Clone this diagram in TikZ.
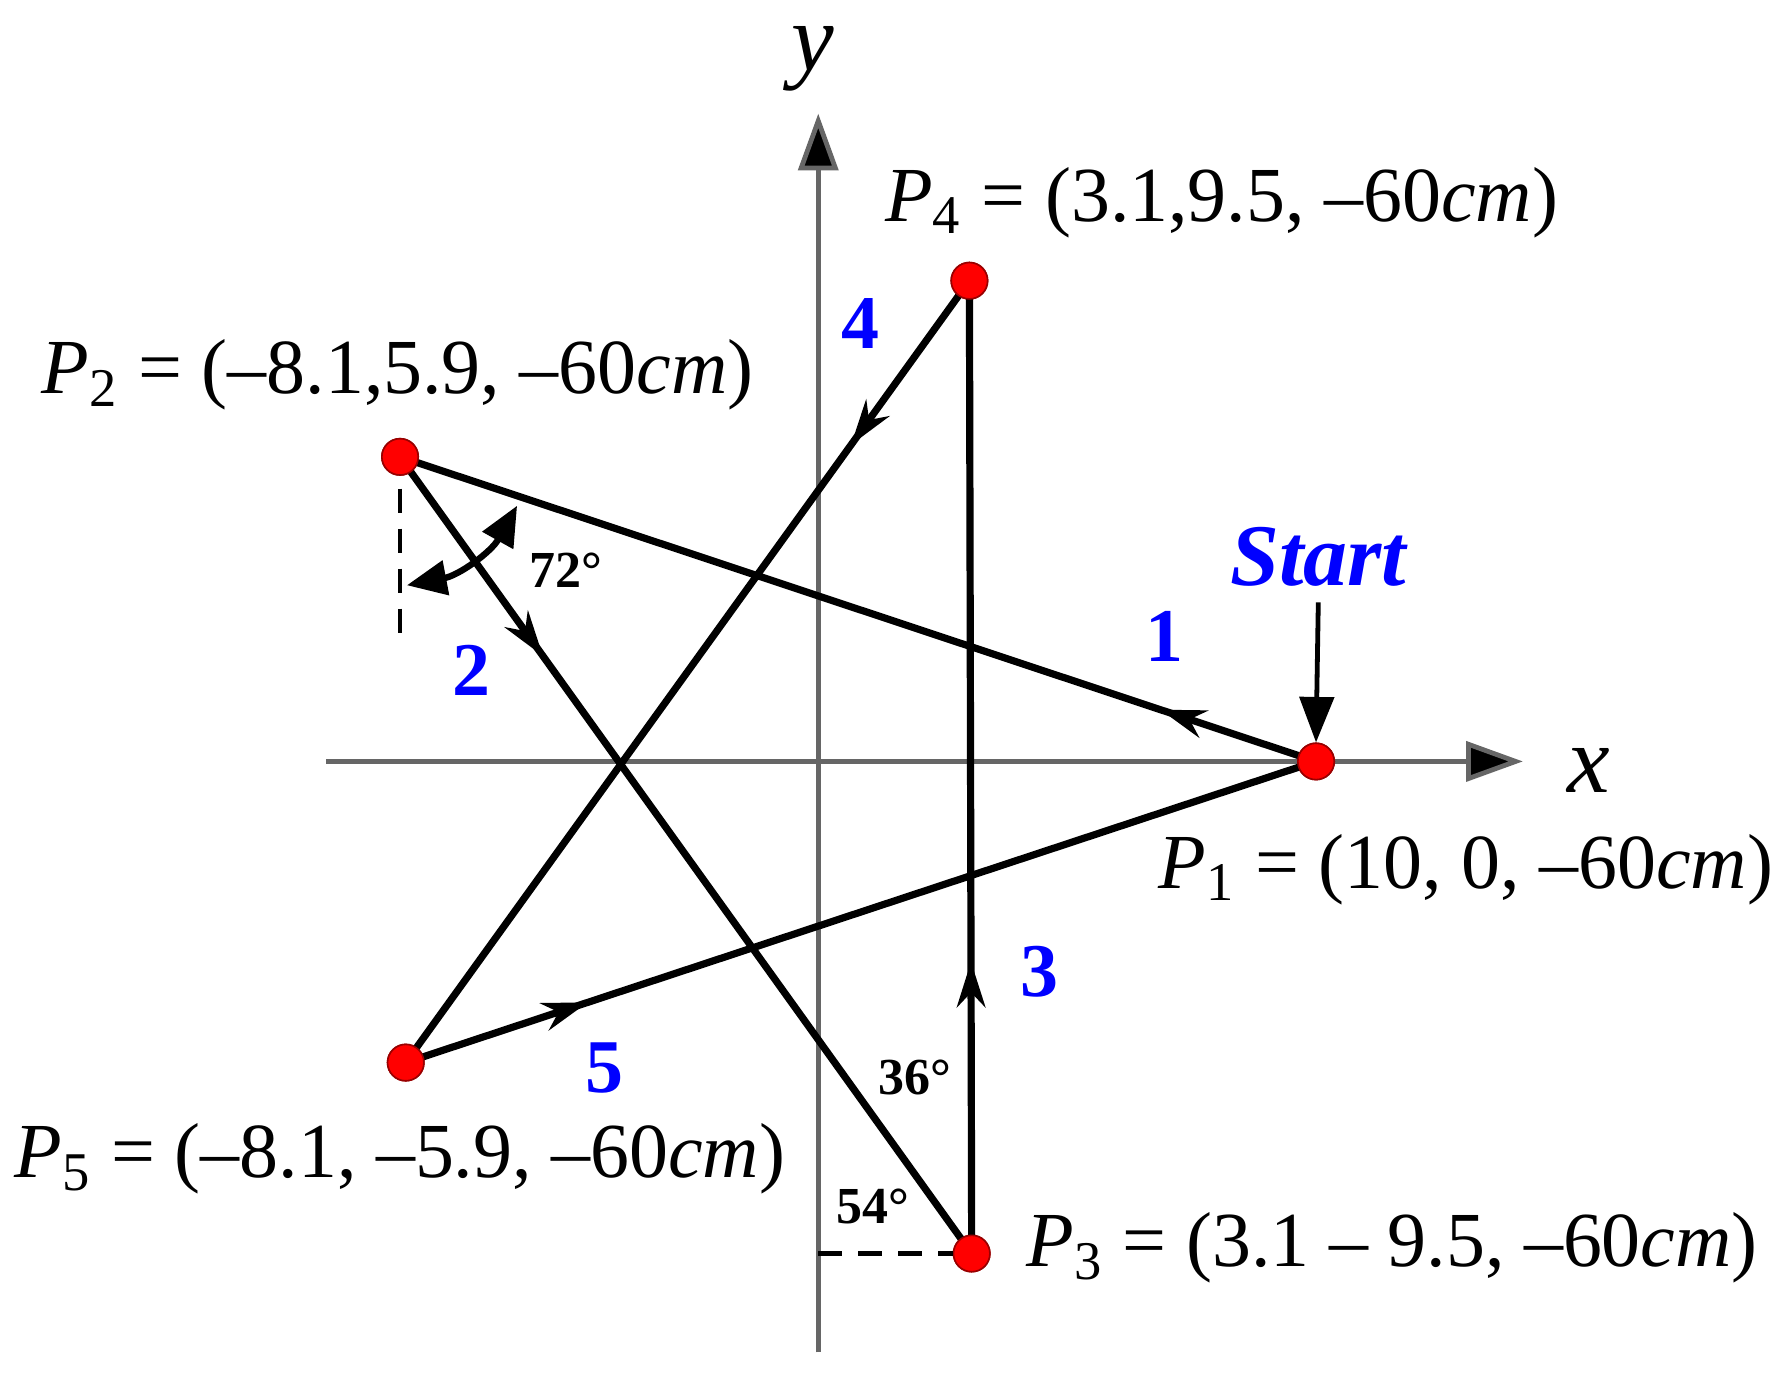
\documentclass[tikz,border=0pt]{standalone}
\usepackage{fontspec}
\setmainfont{Liberation Serif}
\usetikzlibrary{arrows.meta,decorations.markings}
\begin{document}
\begin{tikzpicture}[x=0.01cm,y=-0.01cm,
  pt/.style={circle,fill=red,draw=red!60!black,inner sep=0pt,minimum size=0.32cm},
  lab/.style={font=\fontsize{19.5}{21}\selectfont},
  num/.style={font=\fontsize{19}{21}\selectfont\bfseries,text=blue},
  deg/.style={font=\fontsize{13}{15}\selectfont\bfseries},
  edge/.style={line width=1.8pt,postaction={decorate},decoration={markings,mark=at position #1 with {\arrow{Stealth[length=0.4cm,width=0.25cm]}}}},
  axis/.style={line width=1.2pt},
  dsh/.style={line width=1.2pt,dash pattern=on 6pt off 4pt}]
\useasboundingbox (0,0) rectangle (1568,1228);
\coordinate (xs) at (287,670);
\coordinate (xe) at (1340,670);
\coordinate (ys) at (720,1190);
\coordinate (ye) at (720,100);
\draw[axis,draw=gray!80!black,-{Triangle[length=0.5cm,width=0.35cm,fill=black]}] (xs)--(xe);
\draw[axis,draw=gray!80!black,-{Triangle[length=0.5cm,width=0.35cm,fill=black]}] (ys)--(ye);
\node[font=\fontsize{24}{26}\selectfont\itshape] (xl) at (1398,678) {x};
\node[font=\fontsize{24}{26}\selectfont\itshape] (yl) at (715,52) {y};
\node[pt] (P1) at (1158,670) {};
\node[pt] (P2) at (352,402) {};
\node[pt] (P3) at (855,1103) {};
\node[pt] (P4) at (853,247) {};
\node[pt] (P5) at (357,935) {};
\draw[edge=0.17] (P1.center)--(P2.center);
\draw[edge=0.25] (P2.center)--(P3.center);
\draw[edge=0.3] (P3.center)--(P4.center);
\draw[edge=0.21] (P4.center)--(P5.center);
\draw[edge=0.2] (P5.center)--(P1.center);
\foreach \p in {P1,P2,P3,P4,P5} \node[pt] at (\p) {};
\node[num] (n1) at (1025,560) {1};
\node[num] (n2) at (415,590) {2};
\node[num] (n3) at (915,855) {3};
\node[num] (n4) at (757,285) {4};
\node[num] (n5) at (532,940) {5};
\node[font=\fontsize{22}{24}\selectfont\bfseries\itshape,text=blue] (st) at (1160,490) {Start};
\coordinate (sa) at (1160,530);
\draw[line width=1.2pt,-{Triangle[length=0.4cm,width=0.3cm]}] (sa)--(P1.north);
\coordinate (d1) at (352,430); \coordinate (d2) at (352,570);
\draw[dsh] (d1)--(d2);
\coordinate (a1) at (455,445); \coordinate (a2) at (358,515);
\draw[line width=1.6pt,{Triangle[length=0.35cm,width=0.3cm]}-{Triangle[length=0.35cm,width=0.3cm]}] (a1) to[bend left=25] (a2);
\node[deg] (d72) at (498,502) {72°};
\node[deg] (d36) at (805,948) {36°};
\node[deg] (d54) at (768,1062) {54°};
\coordinate (h1) at (720,1103);
\draw[dsh] (h1)--(P3.west);
\node[lab] (L4) at (1075,178) {\textit{P}\textsubscript{4} = (3.1,9.5, –60\textit{cm})};
\node[lab] (L2) at (350,330) {\textit{P}\textsubscript{2} = (–8.1,5.9, –60\textit{cm})};
\node[lab] (L1) at (1290,765) {\textit{P}\textsubscript{1} = (10, 0, –60\textit{cm})};
\node[lab] (L5) at (352,1020) {\textit{P}\textsubscript{5} = (–8.1, –5.9, –60\textit{cm})};
\node[lab] (L3) at (1225,1098) {\textit{P}\textsubscript{3} = (3.1 – 9.5, –60\textit{cm})};
\end{tikzpicture}
\end{document}
